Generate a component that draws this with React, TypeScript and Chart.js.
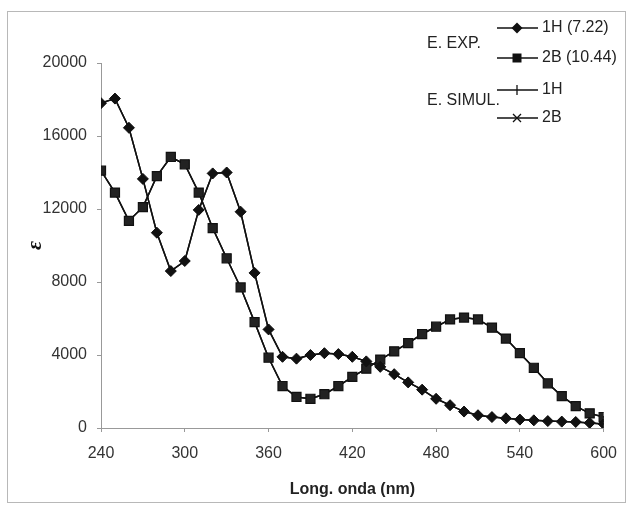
import React, { useEffect, useRef } from "react";
import { Chart, registerables } from "chart.js";

Chart.register(...registerables);

const wavelengths = [
  240, 250, 260, 270, 280, 290, 300, 310, 320, 330, 340, 350, 360, 370, 380, 390, 400, 410, 420,
  430, 440, 450, 460, 470, 480, 490, 500, 510, 520, 530, 540, 550, 560, 570, 580, 590, 600,
];

const exp1H = [
  17800, 18050, 16450, 13650, 10700, 8600, 9150, 11950, 13950, 14000, 11850, 8500, 5400, 3900, 3800,
  4000, 4100, 4050, 3900, 3650, 3350, 2950, 2500, 2100, 1600, 1250, 900, 700, 600, 530, 460, 420,
  380, 350, 330, 280, 220,
];

const exp2B = [
  14100, 12900, 11350, 12100, 13800, 14850, 14450, 12900, 10950, 9300, 7700, 5800, 3850, 2300, 1700,
  1600, 1850, 2300, 2800, 3250, 3750, 4200, 4650, 5150, 5550, 5950, 6050, 5950, 5500, 4900, 4100,
  3300, 2450, 1750, 1200, 800, 600,
];

const sim1H = [
  17800, 18050, 16450, 13650, 10700, 8600, 9150, 11950, 13950, 14000, 11850, 8500, 5400, 3900, 3800,
  4000, 4100, 4050, 3900, 3650, 3350, 2950, 2500, 2100, 1600, 1250, 900, 700, 600, 530, 460, 420,
  380, 350, 330, 280, 220,
];

const sim2B = [
  14100, 12900, 11350, 12100, 13800, 14850, 14450, 12900, 10950, 9300, 7700, 5800, 3850, 2300, 1700,
  1600, 1850, 2300, 2800, 3250, 3750, 4200, 4650, 5150, 5550, 5950, 6050, 5950, 5500, 4900, 4100,
  3300, 2450, 1750, 1200, 800, 600,
];

const seriesLabels = ["1H (7.22)", "2B (10.44)", "1H", "2B"];
const groupLabels = ["E. EXP.", "E. SIMUL."];
const xTitle = "Long. onda (nm)";
const yTitle = "ε";

const FONT = "'Liberation Sans', Arial, sans-serif";

function toXY(xs: number[], ys: number[]) {
  return xs.map((x, i) => ({ x, y: ys[i] }));
}

function drawMarker(ctx: CanvasRenderingContext2D, style: string, x: number, y: number) {
  ctx.save();
  ctx.fillStyle = "#111";
  ctx.strokeStyle = "#111";
  ctx.lineWidth = 1.3;
  ctx.beginPath();
  if (style === "rectRot") {
    const r = 5.5;
    ctx.moveTo(x, y - r);
    ctx.lineTo(x + r, y);
    ctx.lineTo(x, y + r);
    ctx.lineTo(x - r, y);
    ctx.closePath();
    ctx.fill();
  } else if (style === "rect") {
    const s = 4.5;
    ctx.rect(x - s, y - s, 2 * s, 2 * s);
    ctx.fill();
  } else if (style === "cross") {
    ctx.moveTo(x, y - 5);
    ctx.lineTo(x, y + 5);
    ctx.stroke();
  } else if (style === "crossRot") {
    const s = 4;
    ctx.moveTo(x - s, y - s);
    ctx.lineTo(x + s, y + s);
    ctx.moveTo(x + s, y - s);
    ctx.lineTo(x - s, y + s);
    ctx.stroke();
  }
  ctx.restore();
}

const framePlugin = {
  id: "frameAndLegend",
  beforeDraw(chart: any) {
    const ctx = chart.ctx as CanvasRenderingContext2D;
    ctx.save();
    ctx.fillStyle = "#ffffff";
    ctx.fillRect(0, 0, chart.width, chart.height);
    ctx.strokeStyle = "#b8b8b8";
    ctx.lineWidth = 1;
    ctx.strokeRect(7.5, 11.5, 618, 491);
    ctx.restore();
  },
  afterDraw(chart: any) {
    const ctx = chart.ctx as CanvasRenderingContext2D;
    const rows = [28, 58, 90, 118];
    const styles = ["rectRot", "rect", "cross", "crossRot"];
    ctx.save();
    ctx.font = `16px ${FONT}`;
    ctx.fillStyle = "#222";
    ctx.textBaseline = "middle";
    ctx.textAlign = "left";
    ctx.fillText(groupLabels[0], 427, 44);
    ctx.fillText(groupLabels[1], 427, 101);
    rows.forEach((y, i) => {
      ctx.strokeStyle = "#111";
      ctx.lineWidth = 1.5;
      ctx.beginPath();
      ctx.moveTo(497, y);
      ctx.lineTo(538, y);
      ctx.stroke();
      drawMarker(ctx, styles[i], 517, y);
      ctx.fillStyle = "#222";
      ctx.fillText(seriesLabels[i], 542, y);
    });
    ctx.restore();
  },
};

export default function App() {
  const ref = useRef<HTMLCanvasElement | null>(null);

  useEffect(() => {
    if (!ref.current) return;
    const common = {
      borderColor: "#111",
      backgroundColor: "#111",
      pointBorderColor: "#111",
      borderWidth: 1.5,
      showLine: true,
      tension: 0,
    };
    const chart = new Chart(ref.current, {
      type: "scatter",
      data: {
        datasets: [
          {
            ...common,
            label: seriesLabels[0],
            data: toXY(wavelengths, exp1H),
            pointStyle: "rectRot",
            pointRadius: 5.5,
            pointBackgroundColor: "#111",
            pointBorderWidth: 1,
          },
          {
            ...common,
            label: seriesLabels[1],
            data: toXY(wavelengths, exp2B),
            pointStyle: "rect",
            pointRadius: 6.4,
            pointBackgroundColor: "#222",
            pointBorderWidth: 1.2,
          },
          {
            ...common,
            label: seriesLabels[2],
            data: toXY(wavelengths, sim1H),
            pointStyle: "cross",
            pointRadius: 5,
            pointBorderWidth: 1.2,
          },
          {
            ...common,
            label: seriesLabels[3],
            data: toXY(wavelengths, sim2B),
            pointStyle: "crossRot",
            pointRadius: 6,
            pointBorderWidth: 1.2,
          },
        ],
      },
      options: {
        animation: false,
        responsive: false,
        maintainAspectRatio: false,
        layout: { padding: { top: 63, right: 16, left: 0, bottom: 0 } },
        plugins: {
          legend: { display: false },
          tooltip: { enabled: false },
        },
        scales: {
          x: {
            type: "linear",
            min: 240,
            max: 600,
            afterFit(axis: any) {
              axis.height = 79;
            },
            ticks: {
              stepSize: 60,
              color: "#333",
              padding: 12,
              font: { family: FONT, size: 16 },
              maxRotation: 0,
              callback: (v: any) => String(v),
            },
            grid: {
              display: true,
              drawOnChartArea: false,
              drawTicks: true,
              tickLength: 4,
              color: "#999",
            },
            border: { display: true, color: "#999", width: 1 },
            title: {
              display: true,
              text: xTitle,
              color: "#222",
              font: { family: FONT, size: 16, weight: "bold" },
              padding: { top: 0, bottom: 8 },
            },
          },
          y: {
            type: "linear",
            min: 0,
            max: 20000,
            afterFit(axis: any) {
              axis.width = 101;
            },
            ticks: {
              stepSize: 4000,
              color: "#333",
              padding: 10,
              font: { family: FONT, size: 16 },
              callback: (v: any) => String(v),
            },
            grid: {
              display: true,
              drawOnChartArea: false,
              drawTicks: true,
              tickLength: 4,
              color: "#999",
            },
            border: { display: true, color: "#999", width: 1 },
            title: {
              display: true,
              text: yTitle,
              color: "#111",
              font: { family: "'Liberation Serif', serif", size: 22, style: "italic", weight: "bold" },
              padding: { top: 22, bottom: 0 },
            },
          },
        },
      },
      plugins: [framePlugin],
    } as any);
    return () => chart.destroy();
  }, []);

  return (
    <div style={{ position: "absolute", left: 0, top: 0, width: 629, height: 507 }}>
      <canvas ref={ref} width={629} height={507} />
    </div>
  );
}
